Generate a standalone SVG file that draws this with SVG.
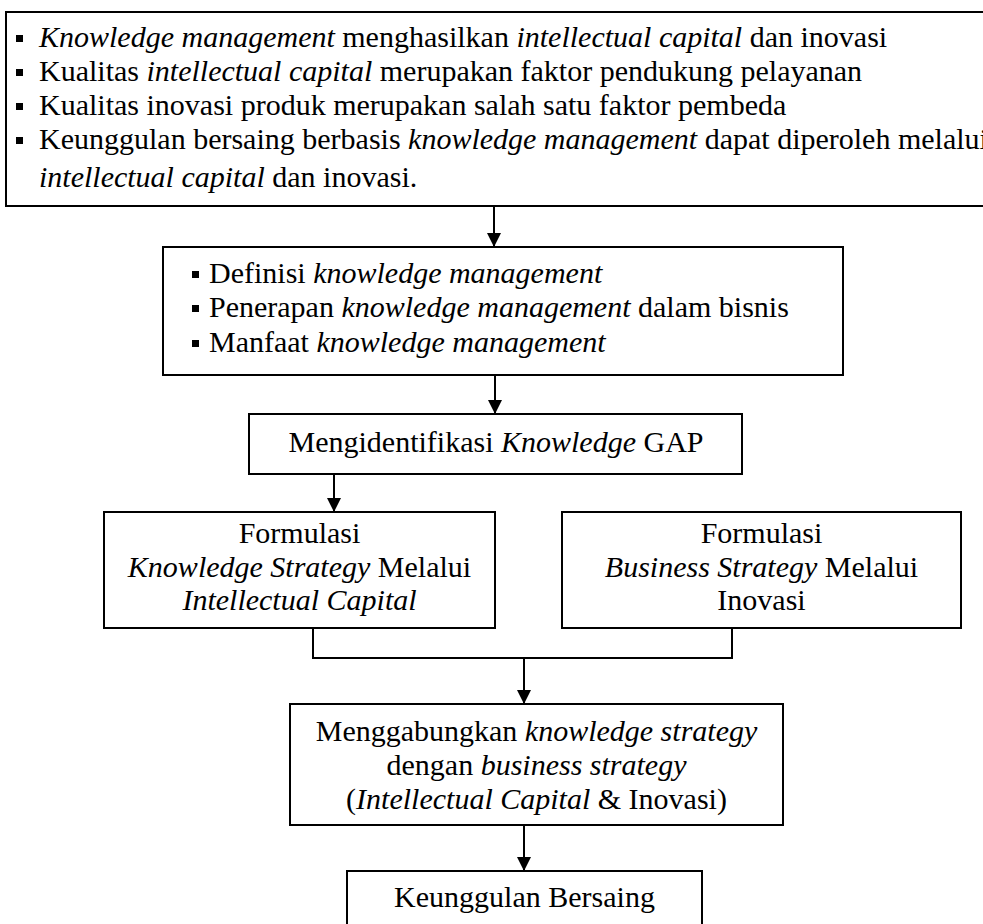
<svg xmlns="http://www.w3.org/2000/svg" width="983" height="924" viewBox="0 0 983 924">
<defs>
<style>
.box{fill:#fff;stroke:#000;stroke-width:2}
.t{font-family:"Liberation Serif","Times New Roman","DejaVu Serif",serif;font-size:30px;fill:#000}
.c{text-anchor:middle}
.i{font-style:italic}
.ln{fill:none;stroke:#000;stroke-width:2}
.b{fill:#000}
</style>
<marker id="ah" markerWidth="14" markerHeight="14" refX="14" refY="7" orient="auto" markerUnits="userSpaceOnUse">
<path d="M0,0 L14,7 L0,14 Z" fill="#000"/>
</marker>
</defs>
<rect width="983" height="924" fill="#fff"/>

<g id="connectors">
<line class="ln" x1="494" y1="207" x2="494" y2="247" marker-end="url(#ah)"/>
<line class="ln" x1="495" y1="376" x2="495" y2="414" marker-end="url(#ah)"/>
<line class="ln" x1="334" y1="475" x2="334" y2="512" marker-end="url(#ah)"/>
<polyline class="ln" points="313,628 313,658 732,658 732,628"/>
<line class="ln" x1="524" y1="658" x2="524" y2="704" marker-end="url(#ah)"/>
<line class="ln" x1="524" y1="826" x2="524" y2="871" marker-end="url(#ah)"/>
</g>

<g id="node-premis">
<rect class="box" x="6" y="12" width="1000" height="194"/>
<rect class="b" x="16" y="35" width="7" height="7"/>
<rect class="b" x="16" y="69" width="7" height="7"/>
<rect class="b" x="16" y="103" width="7" height="7"/>
<rect class="b" x="16" y="137" width="7" height="7"/>
<text class="t" x="39" y="47"><tspan class="i">Knowledge management</tspan> menghasilkan <tspan class="i">intellectual capital</tspan> dan inovasi</text>
<text class="t" x="39" y="81">Kualitas <tspan class="i">intellectual capital</tspan> merupakan faktor pendukung pelayanan</text>
<text class="t" x="39" y="115">Kualitas inovasi produk merupakan salah satu faktor pembeda</text>
<text class="t" x="39" y="149">Keunggulan bersaing berbasis <tspan class="i">knowledge management</tspan> dapat diperoleh melalui</text>
<text class="t" x="39" y="187"><tspan class="i">intellectual capital</tspan> dan inovasi.</text>
</g>

<g id="node-km">
<rect class="box" x="163" y="247" width="680" height="128"/>
<rect class="b" x="192" y="271" width="7" height="7"/>
<rect class="b" x="192" y="305" width="7" height="7"/>
<rect class="b" x="192" y="340" width="7" height="7"/>
<text class="t" x="209" y="283">Definisi <tspan class="i">knowledge management</tspan></text>
<text class="t" x="209" y="317">Penerapan <tspan class="i">knowledge management</tspan> dalam bisnis</text>
<text class="t" x="209" y="352">Manfaat <tspan class="i">knowledge management</tspan></text>
</g>

<g id="node-gap">
<rect class="box" x="249" y="414" width="493" height="60"/>
<text class="t c" x="496" y="452">Mengidentifikasi <tspan class="i">Knowledge</tspan> GAP</text>
</g>

<g id="node-ks">
<rect class="box" x="104" y="512" width="391" height="116"/>
<text class="t c" x="299.5" y="543">Formulasi</text>
<text class="t c" x="299.5" y="577"><tspan class="i">Knowledge Strategy</tspan> Melalui</text>
<text class="t c i" x="299.5" y="610">Intellectual Capital</text>
</g>

<g id="node-bs">
<rect class="box" x="562" y="512" width="399" height="116"/>
<text class="t c" x="761.5" y="543">Formulasi</text>
<text class="t c" x="761.5" y="577"><tspan class="i">Business Strategy</tspan> Melalui</text>
<text class="t c" x="761.5" y="610">Inovasi</text>
</g>

<g id="node-gabung">
<rect class="box" x="290" y="704" width="493" height="121"/>
<text class="t c" x="536.5" y="741">Menggabungkan <tspan class="i">knowledge strategy</tspan></text>
<text class="t c" x="536.5" y="775">dengan <tspan class="i">business strategy</tspan></text>
<text class="t c" x="536.5" y="809">(<tspan class="i">Intellectual Capital</tspan> &amp; Inovasi)</text>
</g>

<g id="node-keunggulan">
<rect class="box" x="347" y="871" width="355" height="80"/>
<text class="t c" x="524.5" y="907">Keunggulan Bersaing</text>
</g>
</svg>
